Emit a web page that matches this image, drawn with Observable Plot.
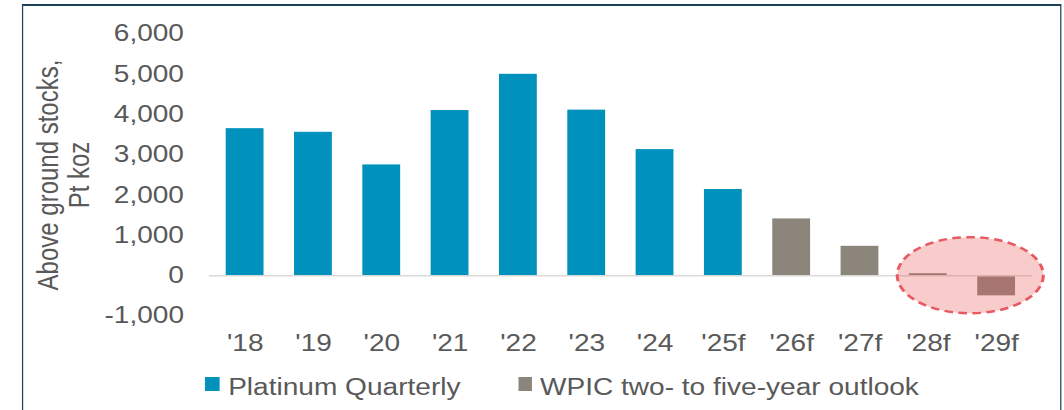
<!DOCTYPE html>
<html>
<head>
<meta charset="utf-8">
<script src="https://cdn.jsdelivr.net/npm/d3@7"></script>
<script src="https://cdn.jsdelivr.net/npm/@observablehq/plot@0.6"></script>
<style>
  html, body { margin: 0; padding: 0; background: #fff; overflow: hidden; }
  body { width: 1064px; height: 410px; position: relative; font-family: "Liberation Sans", Arial, sans-serif; }
  #wrap { position: absolute; left: 0; top: 0; width: 872px; height: 410px; transform: scaleX(1.22); transform-origin: 0 0; }
  #frame { position: absolute; left: 18.2px; top: 4px; width: 852px; height: 430px; border: 2px solid #1c4255; box-sizing: border-box; border-left-width: 1.8px; border-right-width: 1.8px; }
  #chart { position: absolute; left: 0; top: 0; }
  #legend { position: absolute; top: 374px; left: 0; width: 872px; height: 24px; font-size: 23px; color: #595959; }
  .item { position: absolute; top: 0; white-space: nowrap; line-height: 22px; }
  .sw { position: absolute; width: 11.5px; height: 14px; top: 2.5px; }
  .lab { position: absolute; top: 0; white-space: nowrap; }
</style>
</head>
<body>
<div id="wrap">
  <div id="frame"></div>
  <div id="chart"></div>
  <div id="legend"></div>
</div>
<script>
// ---- data ----
const categories = ["'18", "'19", "'20", "'21", "'22", "'23", "'24", "'25f", "'26f", "'27f", "'28f", "'29f"];
const stocks = [3650, 3560, 2750, 4100, 5000, 4110, 3130, 2140, 1410, 730, 50, -500];
const seriesNames = ["Platinum Quarterly", "WPIC two- to five-year outlook"];
const seriesOf = [0, 0, 0, 0, 0, 0, 0, 0, 1, 1, 1, 1];
const seriesColors = ["#0091bd", "#8b857b"];
const yTicks = [-1000, 0, 1000, 2000, 3000, 4000, 5000, 6000];
const yTitle = "Above ground stocks,\nPt koz";
const highlighted = ["'28f", "'29f"];

const rows = categories.map((c, i) => ({ cat: c, value: stocks[i], series: seriesNames[seriesOf[i]] }));

const W = 872, H = 360;
const mL = 171.3, mR = 26.1, mT = 33.5, mB = 44.5;

const plot = Plot.plot({
  width: W,
  height: H,
  marginLeft: mL,
  marginRight: mR,
  marginTop: mT,
  marginBottom: mB,
  style: { fontFamily: "Liberation Sans, Arial, sans-serif", fontSize: "23px", color: "#595959", background: "transparent", overflow: "visible" },
  x: { type: "band", domain: categories, paddingInner: 0.44, paddingOuter: 0.22, label: null },
  y: { domain: [-1000, 6000], label: null },
  color: { domain: seriesNames, range: seriesColors },
  marks: [
    Plot.barY(rows, { x: "cat", y: "value", fill: "series" }),
    Plot.ruleY([0], { stroke: "#d9d9d9", strokeWidth: 1.5 }),
    Plot.axisY(yTicks, { tickSize: 0, tickPadding: 21, fill: "#595959", tickFormat: d => d.toLocaleString("en-US"), fontSize: 23 }),
    Plot.axisX({ tickSize: 0, tickPadding: 19, fill: "#595959", fontSize: 23 }),
    Plot.text([yTitle], { frameAnchor: "left", rotate: -90, dx: -120, textAnchor: "middle", lineAnchor: "middle", lineHeight: 1.06, fontSize: 24, fill: "#595959" })
  ]
});
document.getElementById("chart").appendChild(plot);

// highlight ellipse drawn through the chart's own scales
const xs = plot.scale("x");
const ys = plot.scale("y");
const xBand = d3.scaleBand().domain(xs.domain).range(xs.range).paddingInner(0.44).paddingOuter(0.22);
const yLin = d3.scaleLinear().domain(ys.domain).range(ys.range);
const step = xBand.step();
const c29 = xBand(highlighted[1]) + xBand.bandwidth() / 2;
const cx = c29 - 0.4 * step;
const cy = yLin(0);
const rx = 1.065 * step;
const ry = Math.abs(yLin(0) - yLin(945));
d3.select(plot).append("ellipse")
  .attr("cx", cx).attr("cy", cy).attr("rx", rx).attr("ry", ry)
  .attr("fill", "rgb(235,85,85)").attr("fill-opacity", 0.3)
  .attr("stroke", "#e85a62").attr("stroke-width", 2.5)
  .attr("stroke-dasharray", "7,4.5");

// legend
const legendPos = [[168, 187], [424.6, 442.6]];
const lg = document.getElementById("legend");
seriesNames.forEach((name, i) => {
  const sw = document.createElement("div");
  sw.className = "sw";
  sw.style.left = legendPos[i][0] + "px";
  sw.style.background = seriesColors[i];
  lg.appendChild(sw);
  const t = document.createElement("div");
  t.className = "lab";
  t.style.left = legendPos[i][1] + "px";
  t.textContent = name;
  lg.appendChild(t);
});
</script>
</body>
</html>
